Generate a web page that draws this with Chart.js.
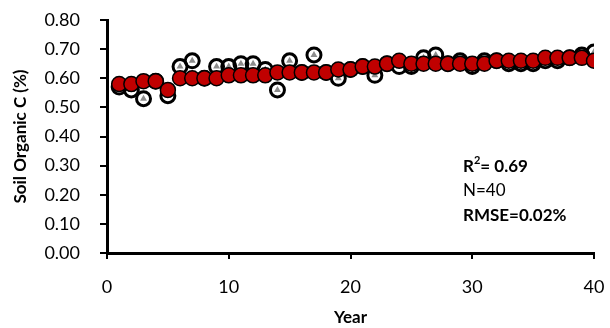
<!DOCTYPE html>
<html>
<head>
<meta charset="utf-8">
<script src="https://cdn.jsdelivr.net/npm/chart.js@4.4.1/dist/chart.umd.min.js"></script>
<style>
html,body{margin:0;padding:0;background:#fff;}
#wrap{width:610px;height:328px;position:relative;}
</style>
</head>
<body>
<div id="wrap"><canvas id="c" width="610" height="328"></canvas></div>
<script>
const years = [1,2,3,4,5,6,7,8,9,10,11,12,13,14,15,16,17,18,19,20,21,22,23,24,25,26,27,28,29,30,31,32,33,34,35,36,37,38,39,40];
const observed = [0.57,0.56,0.53,0.59,0.54,0.64,0.66,0.60,0.64,0.64,0.65,0.65,0.63,0.56,0.66,0.62,0.68,0.62,0.60,0.63,0.64,0.61,0.65,0.64,0.64,0.67,0.68,0.65,0.66,0.64,0.66,0.66,0.65,0.65,0.65,0.66,0.66,0.67,0.68,0.69];
const predicted = [0.58,0.58,0.59,0.59,0.56,0.60,0.60,0.60,0.60,0.61,0.61,0.61,0.61,0.62,0.62,0.62,0.62,0.62,0.63,0.63,0.64,0.64,0.65,0.66,0.65,0.65,0.65,0.65,0.65,0.65,0.65,0.66,0.66,0.66,0.66,0.67,0.67,0.67,0.67,0.66];
const xTicks = [0,10,20,30,40];
const yTicks = [0.00,0.10,0.20,0.30,0.40,0.50,0.60,0.70,0.80];
const statsLines = ["R2= 0.69","N=40","RMSE=0.02%"];

const FONT = "Lato";
const pts = arr => arr.map((v,i)=>({x:years[i], y:v}));

const annot = {
  id:'annot',
  afterDraw(chart){
    const ctx = chart.ctx;
    ctx.save();
    ctx.fillStyle = '#000';
    ctx.textBaseline = 'alphabetic';
    ctx.textAlign = 'left';
    const x0 = 463;
    ctx.font = `bold 17px ${FONT}`;
    ctx.fillText('R', x0, 172);
    let w = ctx.measureText('R').width;
    ctx.font = `bold 11px ${FONT}`;
    ctx.fillText('2', x0 + w, 164);
    let w2 = ctx.measureText('2').width;
    ctx.font = `bold 17px ${FONT}`;
    ctx.fillText('= 0.69', x0 + w + w2, 172);
    ctx.font = `17px ${FONT}`;
    ctx.fillText(statsLines[1], x0, 196);
    ctx.font = `bold 17px ${FONT}`;
    ctx.fillText(statsLines[2], x0, 221);
    ctx.restore();
  }
};

new Chart(document.getElementById('c'), {
  type:'scatter',
  data:{
    datasets:[
      {label:'Predicted', data:pts(predicted), order:0, pointStyle:'circle', pointRadius:7.5, pointBackgroundColor:'#C00000', pointBorderColor:'#000', pointBorderWidth:1.5},
      {label:'Observed', data:pts(observed), order:1, pointStyle:'circle', pointRadius:7, pointBackgroundColor:'rgba(255,255,255,0)', pointBorderColor:'#000', pointBorderWidth:3},
      {label:'Observed mark', data:pts(observed), order:2, pointStyle:'triangle', pointRadius:4, pointBackgroundColor:'#8c8c8c', pointBorderColor:'#8c8c8c', pointBorderWidth:0}
    ]
  },
  options:{
    responsive:false,
    animation:false,
    events:[],
    layout:{padding:{left:0,right:16,top:20,bottom:0}},
    plugins:{legend:{display:false}, tooltip:{enabled:false}},
    scales:{
      x:{
        type:'linear', min:0, max:40,
        afterBuildTicks(s){ s.ticks = xTicks.map(v=>({value:v})); },
        afterFit(s){ s.height = 75; s.paddingLeft = 0; s.paddingRight = 0; },
        border:{color:'#000', width:3},
        grid:{display:true, drawOnChartArea:false, drawTicks:true, tickLength:6, color:'#000', lineWidth:2},
        ticks:{color:'#000', font:{family:FONT, size:18}, padding:17, maxRotation:0},
        title:{display:true, text:'Year', color:'#000', font:{family:FONT, size:17, weight:'bold'}, padding:{top:0,bottom:0}}
      },
      y:{
        type:'linear', min:0, max:0.8,
        afterBuildTicks(s){ s.ticks = yTicks.map(v=>({value:v})); },
        afterFit(s){ s.width = 107; s.paddingTop = 0; s.paddingBottom = 0; },
        border:{color:'#000', width:3},
        grid:{display:true, drawOnChartArea:false, drawTicks:true, tickLength:7, color:'#000', lineWidth:2},
        ticks:{color:'#000', font:{family:FONT, size:18}, padding:20, callback:v=>Number(v).toFixed(2)},
        title:{display:true, text:'Soil Organic C (%)', color:'#000', font:{family:FONT, size:17, weight:'bold'}, padding:{top:10,bottom:0}}
      }
    }
  },
  plugins:[annot]
});
</script>
</body>
</html>
